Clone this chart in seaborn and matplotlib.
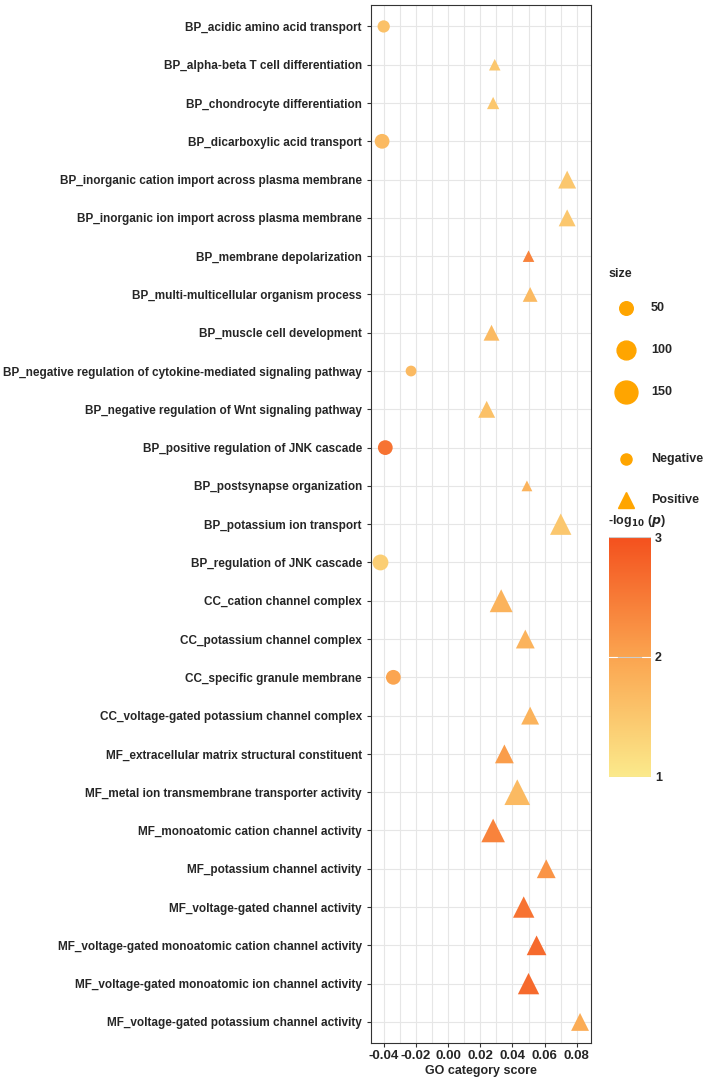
import numpy as np
import pandas as pd
import seaborn as sns
import matplotlib.pyplot as plt
from matplotlib.colors import LinearSegmentedColormap, Normalize
from matplotlib.lines import Line2D

terms = [
    "BP_acidic amino acid transport", "BP_alpha-beta T cell differentiation",
    "BP_chondrocyte differentiation", "BP_dicarboxylic acid transport",
    "BP_inorganic cation import across plasma membrane",
    "BP_inorganic ion import across plasma membrane", "BP_membrane depolarization",
    "BP_multi-multicellular organism process", "BP_muscle cell development",
    "BP_negative regulation of cytokine-mediated signaling pathway",
    "BP_negative regulation of Wnt signaling pathway",
    "BP_positive regulation of JNK cascade", "BP_postsynapse organization",
    "BP_potassium ion transport", "BP_regulation of JNK cascade",
    "CC_cation channel complex", "CC_potassium channel complex",
    "CC_specific granule membrane", "CC_voltage-gated potassium channel complex",
    "MF_extracellular matrix structural constituent",
    "MF_metal ion transmembrane transporter activity",
    "MF_monoatomic cation channel activity", "MF_potassium channel activity",
    "MF_voltage-gated channel activity",
    "MF_voltage-gated monoatomic cation channel activity",
    "MF_voltage-gated monoatomic ion channel activity",
    "MF_voltage-gated potassium channel activity",
]
scores = [-0.040, 0.029, 0.028, -0.041, 0.074, 0.074, 0.050, 0.051, 0.027, -0.023,
          0.024, -0.039, 0.049, 0.070, -0.042, 0.033, 0.048, -0.034, 0.051, 0.035,
          0.043, 0.028, 0.061, 0.047, 0.055, 0.050, 0.082]
sizes = [40, 35, 40, 60, 90, 80, 35, 60, 70, 30, 80, 60, 30, 130, 70, 150, 100, 60,
         90, 100, 190, 160, 100, 130, 110, 130, 90]
logp = [1.6, 1.5, 1.5, 1.7, 1.5, 1.5, 2.4, 1.7, 1.7, 1.7, 1.6, 2.6, 1.8, 1.5, 1.4,
        1.8, 1.8, 2.0, 1.8, 2.1, 1.7, 2.4, 2.2, 2.6, 2.7, 2.7, 1.9]

df = pd.DataFrame({"term": terms, "score": scores, "size": sizes, "logp": logp})
df["direction"] = np.where(df["score"] < 0, "Negative", "Positive")

cmap = LinearSegmentedColormap.from_list("yor", ["#FBEA8C", "#FBA550", "#F4511E"])
norm = Normalize(1, 3)

sns.set_style("whitegrid")
plt.rcParams["font.family"] = ["Liberation Sans", "DejaVu Sans"]
plt.rcParams["font.weight"] = "bold"

fig = plt.figure(figsize=(7.09, 10.77), dpi=100)
ax = fig.add_axes([0.523, 0.0316, 0.311, 0.9634])

size_norm = (10, 200)
size_range = (25, 360)
sns.scatterplot(data=df, x="score", y="term", size="size", sizes=size_range,
                size_norm=size_norm, style="direction",
                markers={"Negative": "o", "Positive": "^"},
                c=cmap(norm(df["logp"])), edgecolor="none", legend=False, ax=ax)

ax.set_xlim(-0.048, 0.089)
ax.set_ylim(len(terms) - 0.45, -0.55)
ax.set_xticks([-0.04, -0.02, 0.0, 0.02, 0.04, 0.06, 0.08])
ax.set_xticklabels(["-0.04", "-0.02", "0.00", "0.02", "0.04", "0.06", "0.08"])
ax.xaxis.set_minor_locator(plt.MultipleLocator(0.01))
ax.grid(True, which="both", color="#E6E6E6", linewidth=0.8)
ax.tick_params(axis="y", labelsize=8.5, length=3, color="#333333", left=True)
ax.tick_params(axis="x", labelsize=9.5, length=3, color="#333333", bottom=True, pad=2)
for lab in ax.get_yticklabels() + ax.get_xticklabels():
    lab.set_fontweight("bold")
ax.set_xlabel("GO category score", fontsize=9, fontweight="bold", labelpad=2)
ax.set_ylabel("")
for sp in ax.spines.values():
    sp.set_color("#333333")
    sp.set_linewidth(0.8)


def area(v):
    t = (v - size_norm[0]) / (size_norm[1] - size_norm[0])
    return size_range[0] + t * (size_range[1] - size_range[0])


fs = 9
# size legend
fig.text(0.858, 0.746, "size", fontsize=fs, fontweight="bold", va="center")
for i, v in enumerate([50, 100, 150]):
    y = 0.714 - i * 0.039
    fig.add_artist(Line2D([0.883], [y], marker="o", color="#FFA500", linestyle="none",
                          markersize=np.sqrt(area(v)), transform=fig.transFigure))
    fig.text(0.918, y, str(v), fontsize=fs, fontweight="bold", va="center")

# shape legend
for i, (lab, m) in enumerate([("Negative", "o"), ("Positive", "^")]):
    y = 0.574 - i * 0.038
    fig.add_artist(Line2D([0.883], [y], marker=m, color="#FFA500", linestyle="none",
                          markersize=11 if m == "^" else 8, transform=fig.transFigure))
    fig.text(0.918, y, lab, fontsize=fs, fontweight="bold", va="center")

# colour bar
cax = fig.add_axes([0.859, 0.279, 0.059, 0.222])
grad = np.linspace(1, 3, 256).reshape(-1, 1)
cax.imshow(grad, aspect="auto", cmap=cmap, norm=norm, origin="lower", extent=[0, 1, 1, 3])
cax.set_xticks([])
cax.yaxis.tick_right()
cax.set_yticks([1, 2, 3])
cax.tick_params(axis="y", length=0, labelsize=fs, pad=3)
for lab in cax.get_yticklabels():
    lab.set_fontweight("bold")
for sp in cax.spines.values():
    sp.set_visible(False)
cax.axhline(2, color="white", lw=0.8, xmax=0.2)
cax.axhline(2, color="white", lw=0.8, xmin=0.8)
fig.text(0.857, 0.516, r"-log$_{\mathbf{10}}$ ($p$)", fontsize=fs, fontweight="bold",
         va="center")

fig.savefig("out.png", dpi=100, facecolor="white")
